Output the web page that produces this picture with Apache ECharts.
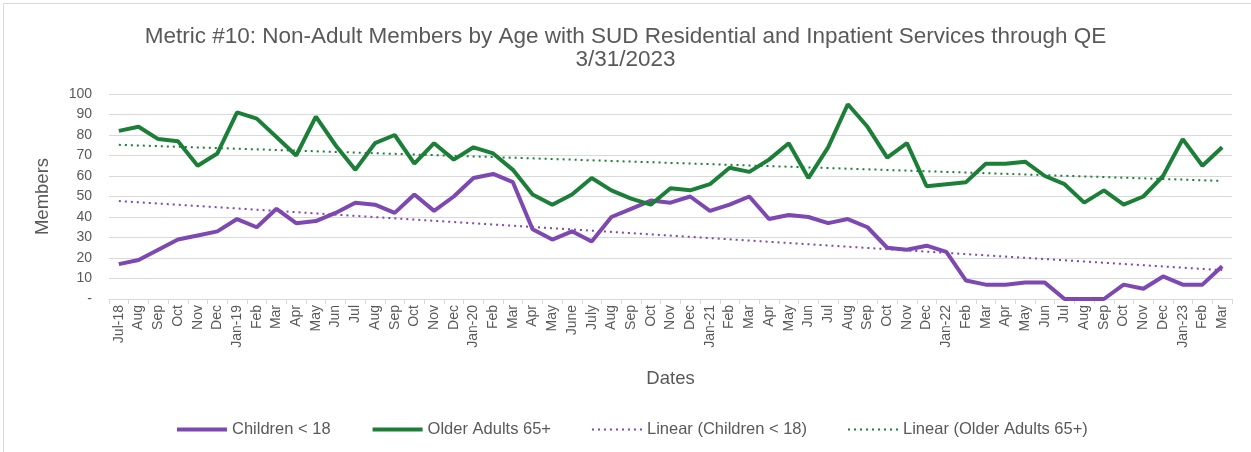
<!DOCTYPE html>
<html>
<head>
<meta charset="utf-8">
<script src="https://cdn.jsdelivr.net/npm/echarts@6/dist/echarts.min.js"></script>
<style>
  html, body { margin: 0; padding: 0; background: #fff; }
  #main { width: 1251px; height: 452px; }
</style>
</head>
<body>
<div id="main"></div>
<script>
// monthly categories, Jul-2018 .. Mar-2023
const dates = ['Jul-18','Aug','Sep','Oct','Nov','Dec',
  'Jan-19','Feb','Mar','Apr','May','Jun','Jul','Aug','Sep','Oct','Nov','Dec',
  'Jan-20','Feb','Mar','Apr','May','June','July','Aug','Sep','Oct','Nov','Dec',
  'Jan-21','Feb','Mar','Apr','May','Jun','Jul','Aug','Sep','Oct','Nov','Dec',
  'Jan-22','Feb','Mar','Apr','May','Jun','Jul','Aug','Sep','Oct','Nov','Dec',
  'Jan-23','Feb','Mar'];

const children = [17,19,24,29,31,33,
  39,35,44,37,38,42,47,46,42,51,43,50,
  59,61,57,34,29,33,28,40,44,48,47,50,
  43,46,50,39,41,40,37,39,35,25,24,26,
  23,9,7,7,8,8,0,0,0,7,5,11,
  7,7,16];

const olderAdults = [82,84,78,77,65,71,
  91,88,79,70,89,75,63,76,80,66,76,68,
  74,71,63,51,46,51,59,53,49,46,54,53,
  56,64,62,68,76,59,74,95,84,69,76,55,
  56,57,66,66,67,60,56,47,53,46,50,60,
  78,65,74];

// trendline values at first and last month
const childrenTrend = [47.8, 14.1];
const olderTrend = [75.2, 57.6];

const purple = '#7e48b3';
const green = '#1b7f38';
const txt = '#595959';

function trendData(ends) {
    let last = dates.length - 1;
    return dates.map(function(d, i) {
        if (i === 0) return ends[0];
        if (i === last) return ends[1];
        return null;
    });
}

let myChart = echarts.init(document.getElementById('main'));
myChart.setOption({
    animation: false,
    title: {
        text: 'Metric #10: Non-Adult Members by Age with SUD Residential and Inpatient Services through QE\n3/31/2023',
        left: 'center',
        top: 20,
        textStyle: { fontFamily: 'Liberation Sans', fontSize: 22.5, fontWeight: 'normal', color: txt, lineHeight: 23 }
    },
    graphic: [{
        type: 'rect',
        shape: { x: 3.5, y: 3.5, width: 1270, height: 470 },
        style: { fill: 'none', stroke: '#d9d9d9', lineWidth: 1 },
        silent: true
    }],
    legend: {
        left: 170,
        top: 416,
        itemGap: 40,
        itemWidth: 50,
        itemHeight: 14,
        itemStyle: { opacity: 0 },
        textStyle: { fontFamily: 'Liberation Sans', fontSize: 16.5, color: txt },
        data: [
            { name: 'Children < 18', lineStyle: { width: 4 } },
            { name: 'Older Adults 65+', lineStyle: { width: 4 } },
            'Linear (Children < 18)',
            'Linear (Older Adults 65+)'
        ]
    },
    grid: { left: 109, right: 19, top: 94, bottom: 153 },
    xAxis: {
        type: 'category',
        data: dates,
        boundaryGap: true,
        name: 'Dates',
        nameLocation: 'middle',
        nameGap: 70,
        nameTextStyle: { fontFamily: 'Liberation Sans', fontSize: 18.5, color: txt },
        axisLine: { lineStyle: { color: '#d9d9d9' } },
        axisTick: { show: true, length: 5, lineStyle: { color: '#d9d9d9' } },
        axisLabel: { interval: 0, rotate: 90, margin: 6, fontFamily: 'Liberation Sans', fontSize: 14, color: txt }
    },
    yAxis: {
        type: 'value',
        min: 0,
        max: 100,
        interval: 10,
        name: 'Members',
        nameLocation: 'middle',
        nameRotate: 90,
        nameGap: 57,
        nameTextStyle: { fontFamily: 'Liberation Sans', fontSize: 18.5, color: txt },
        axisLine: { show: false },
        axisTick: { show: false },
        splitLine: { lineStyle: { color: '#d9d9d9', width: 1 } },
        axisLabel: {
            margin: 17,
            fontFamily: 'Liberation Sans', fontSize: 14, color: txt,
            formatter: function(v) { return v === 0 ? '-' : v; }
        }
    },
    series: [
        {
            name: 'Children < 18',
            type: 'line',
            data: children,
            symbol: 'none',
            color: purple,
            lineStyle: { color: purple, width: 4 },
            z: 3
        },
        {
            name: 'Older Adults 65+',
            type: 'line',
            data: olderAdults,
            symbol: 'none',
            color: green,
            lineStyle: { color: green, width: 4 },
            z: 3
        },
        {
            name: 'Linear (Children < 18)',
            type: 'line',
            data: trendData(childrenTrend),
            connectNulls: true,
            symbol: 'none',
            color: purple,
            lineStyle: { color: purple, width: 2, type: [2, 4] },
            z: 4
        },
        {
            name: 'Linear (Older Adults 65+)',
            type: 'line',
            data: trendData(olderTrend),
            connectNulls: true,
            symbol: 'none',
            color: green,
            lineStyle: { color: green, width: 2, type: [2, 4] },
            z: 4
        }
    ]
});
</script>
</body>
</html>
